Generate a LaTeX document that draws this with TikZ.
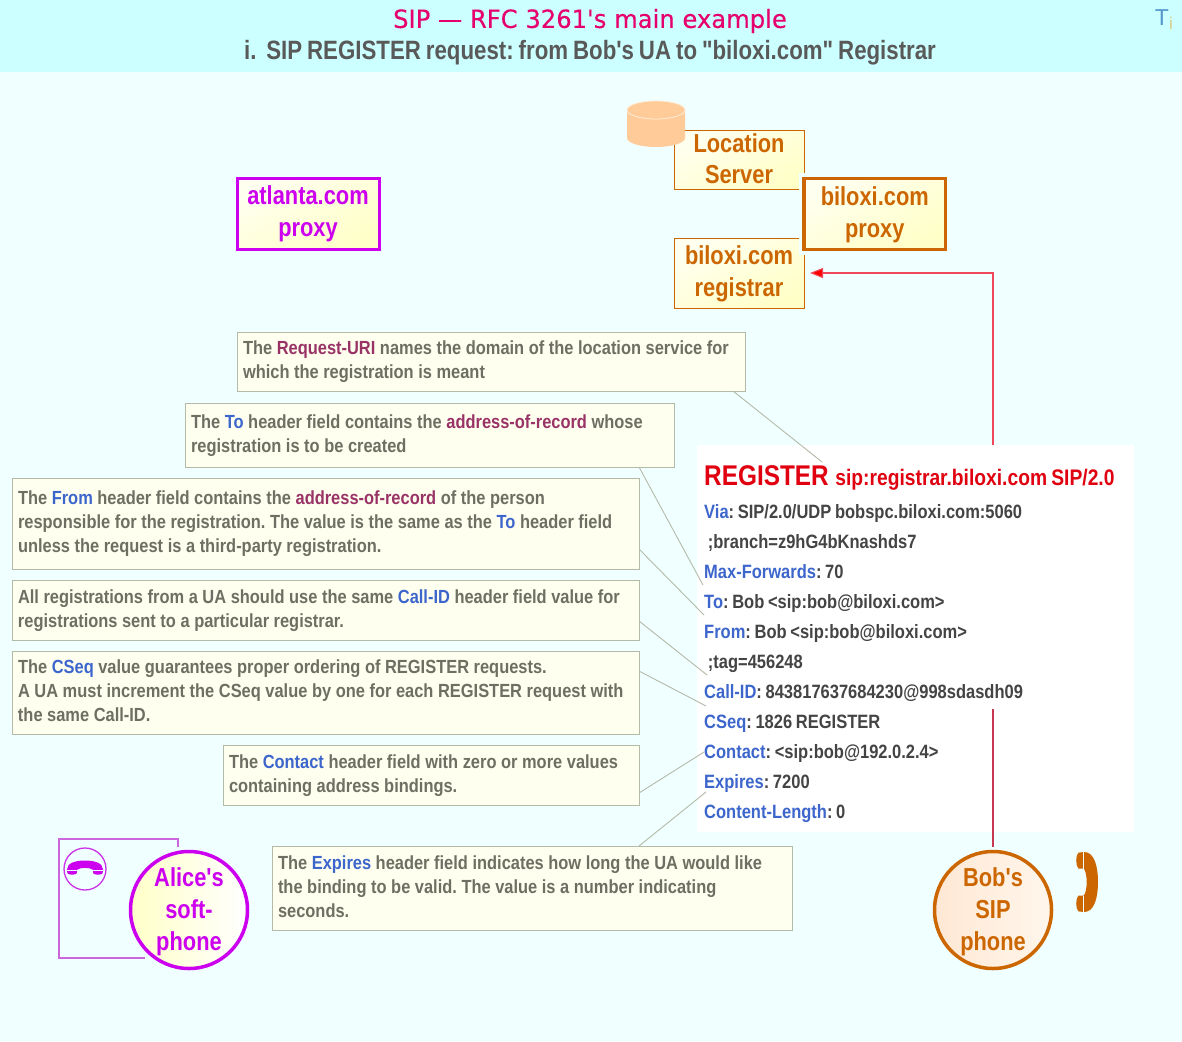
\documentclass[tikz,border=0pt]{standalone}
\usepackage{fontspec}
\usetikzlibrary{arrows.meta,calc}
\newfontfamily\narf[FakeStretch=0.84,WordSpace=0.8]{Liberation Sans}
\newfontfamily\notef[FakeStretch=0.865]{Liberation Sans}
\newfontfamily\msgf[FakeStretch=0.855,WordSpace=0.8]{Liberation Sans}
\newfontfamily\titf[FakeStretch=0.97,FakeBold=0.25]{DejaVu Sans}
\AtBeginDocument{\frenchspacing}
\definecolor{bandc}{HTML}{CCFFFF}
\definecolor{bodyc}{HTML}{F0FFFF}
\definecolor{notefill}{HTML}{FFFFF0}
\definecolor{noteline}{HTML}{B4BAA8}
\definecolor{notetext}{HTML}{6E6E62}
\definecolor{kwblue}{HTML}{3D66CC}
\definecolor{kwmar}{HTML}{993366}
\definecolor{orng}{HTML}{CC6600}
\definecolor{magn}{HTML}{CC00EE}
\definecolor{magl}{HTML}{CC66DD}
\definecolor{msgtext}{HTML}{444444}
\definecolor{msgred}{HTML}{E00010}
\definecolor{titlered}{HTML}{E6006E}
\definecolor{boxa}{HTML}{FFFFF0}
\definecolor{boxb}{HTML}{FFFFC8}
\definecolor{flowred}{HTML}{F04858}
\definecolor{flowdark}{HTML}{C83850}
\definecolor{cylc}{HTML}{FFCC99}
\definecolor{teec}{HTML}{5599CC}
\definecolor{eyec}{HTML}{DDCC88}
\definecolor{peacha}{HTML}{FFE8D4}
\definecolor{peachb}{HTML}{FFF6EC}
\newcommand{\kwb}[1]{\textcolor{kwblue}{#1}}
\newcommand{\kwm}[1]{\textcolor{kwmar}{#1}}
\newcommand{\handset}{(-1,-0.1) .. controls (-1,0.35) and (-0.5,0.5) .. (0,0.5) .. controls (0.5,0.5) and (1,0.35) .. (1,-0.1) -- (0.98,-0.35) .. controls (0.9,-0.48) and (0.55,-0.48) .. (0.45,-0.35) -- (0.45,-0.12) .. controls (0.3,0.05) and (-0.3,0.05) .. (-0.45,-0.12) -- (-0.45,-0.35) .. controls (-0.55,-0.48) and (-0.9,-0.48) .. (-0.98,-0.35) -- cycle}
\newcommand{\lowfix}{\rule[-3pt]{0pt}{0pt}}
\newcommand{\nudge}{\rule{0pt}{16pt}}
\newcommand{\topfix}{\rule{0pt}{23pt}}
\newcommand{\bignudge}{\rule{0pt}{21pt}}
\tikzset{
  note/.style={anchor=north west,draw=noteline,fill=notefill,line width=1pt,outer sep=0pt,inner xsep=6pt,inner ysep=0pt,align=flush left,text=notetext,font=\notef\bfseries\fontsize{19}{24}\selectfont},
  lead/.style={draw=noteline,line width=0.9pt},
  orbox/.style={draw=orng,line width=1pt,outer sep=0pt,left color=boxa,right color=boxb,shading angle=30,text=orng,align=center,inner sep=0pt,font=\narf\bfseries\fontsize{26}{32}\selectfont},
  bigbox/.style={orbox,line width=3.5pt},
  roundend/.style={circle,inner sep=0pt,outer sep=0pt,minimum size=117pt,line width=3.5pt,align=center,font=\narf\bfseries\fontsize{26}{32}\selectfont},
}
\begin{document}
\begin{tikzpicture}[x=1pt,y=-1pt]
\useasboundingbox (0,0) rectangle (1182,1041);
\fill[bodyc] (0,0) rectangle (1182,1041);
\fill[bandc] (0,0) rectangle (1182,72);
\node[anchor=center,text=titlered,font=\titf\fontsize{25}{30}\selectfont] (title) at (590,21) {SIP — RFC 3261's main example};
\node[anchor=center,text=black!65,font=\narf\bfseries\fontsize{26.5}{30}\selectfont] (subtitle) at (590,53) {i.\ \ SIP REGISTER request: from Bob's UA to "biloxi.com" Registrar};
\node[anchor=center,text=teec,font=\fontspec{Liberation Sans}\fontsize{23}{26}\selectfont] (tee) at (1162,18) {T};
\node[anchor=center,text=eyec,font=\fontspec{Liberation Sans}\fontsize{17}{20}\selectfont] (eye) at (1171,23) {i};

% message panel
\node[anchor=north west,fill=white,inner sep=0pt,outer sep=0pt,minimum width=437pt,minimum height=387pt] (msgbox) at (697,445) {};
\coordinate (msgtop) at (993,445);
\coordinate (msgmid) at (993,709);

% servers
\node[orbox,anchor=north west,minimum width=130pt,minimum height=59pt,font=\narf\bfseries\fontsize{26}{31}\selectfont] (loc) at (674,130) {Location\\Server\rule[-2pt]{0pt}{0pt}};
\node[orbox,anchor=north west,minimum width=130pt,minimum height=70pt] (reg) at (674,238) {\bignudge biloxi.com\\registrar};
\node[bigbox,anchor=north west,minimum width=141.5pt,minimum height=71pt,preaction={draw=bodyc,line width=11pt}] (bproxy) at (804,178.5) {\bignudge biloxi.com\\proxy};
\node[bigbox,anchor=north west,draw=magn,text=magn,line width=3pt,minimum width=142pt,minimum height=71pt] (aproxy) at (237,178) {atlanta.com\\proxy};
% database cylinder
\fill[cylc] (627,110) -- (627,138) arc[x radius=29,y radius=9,start angle=180,end angle=0] -- (685,110) arc[x radius=29,y radius=9,start angle=0,end angle=-180] -- cycle;
\draw[white!60!cylc,fill=cylc,line width=0.8pt] (656,110) ellipse[x radius=29,y radius=9];

% endpoints
\node[roundend,draw=orng,left color=peacha,right color=peachb,text=orng] (bob) at (993,910) {\topfix Bob's\\SIP\\phone};
% registration flow
\draw[draw=flowred,line width=1.1pt,-{Triangle[length=13pt,width=10pt,fill=red]}] (msgtop) |- ([xshift=6pt]reg.east);
\draw[draw=flowdark,line width=1.1pt] ([yshift=5pt]bob.north) -- (msgmid);

% notes
\node[note,minimum width=508pt,minimum height=59pt,text width=496pt] (n1) at (237,332) {The \kwm{Request-URI} names the domain of the location service for\\which the registration is meant};
\node[note,minimum width=489pt,minimum height=64pt,text width=477pt] (n2) at (185,403) {\nudge The \kwb{To} header field contains the \kwm{address-of-record} whose\\registration is to be created};
\node[note,minimum width=627pt,minimum height=91pt,text width=615pt] (n3) at (12,478) {The \kwb{From} header field contains the \kwm{address-of-record} of the person\\responsible for the registration. The value is the same as the \kwb{To} header field\\unless the request is a third-party registration.\lowfix};
\node[note,minimum width=627pt,minimum height=60pt,text width=615pt] (n4) at (12,580) {\nudge All registrations from a UA should use the same \kwb{Call-ID} header field value for\\registrations sent to a particular registrar.};
\node[note,minimum width=627pt,minimum height=83pt,text width=615pt] (n5) at (12,651) {The \kwb{CSeq} value guarantees proper ordering of REGISTER requests.\\A UA must increment the CSeq value by one for each REGISTER request with\\the same Call-ID.\lowfix};
\node[note,minimum width=416pt,minimum height=60pt,text width=404pt] (n6) at (223,745) {\nudge The \kwb{Contact} header field with zero or more values\\containing address bindings.};
\node[note,minimum width=520pt,minimum height=84pt,text width=508pt] (n7) at (272,846) {The \kwb{Expires} header field indicates how long the UA would like\\the binding to be valid. The value is a number indicating\\seconds.\lowfix};

% message text
\node[anchor=north west,inner sep=0pt,align=left,text=msgtext,font=\msgf\bfseries\fontsize{19.3}{30}\selectfont] (msgtxt) at (704,465) {\textcolor{msgred}{{\fontsize{28.5}{30}\selectfont REGISTER}\hspace{3pt} {\fontsize{22.5}{30}\selectfont sip:registrar.biloxi.com SIP/2.0}}\\[3pt]
\kwb{Via}: SIP/2.0/UDP bobspc.biloxi.com:5060\\
\ ;branch=z9hG4bKnashds7\\
\kwb{Max-Forwards}: 70\\
\kwb{To}: Bob <sip:bob@biloxi.com>\\
\kwb{From}: Bob <sip:bob@biloxi.com>\\
\ ;tag=456248\\
\kwb{Call-ID}: 843817637684230@998sdasdh09\\
\kwb{CSeq}: 1826 REGISTER\\
\kwb{Contact}: <sip:bob@192.0.2.4>\\
\kwb{Expires}: 7200\\
\kwb{Content-Length}: 0};

% leader ends
\coordinate (e1) at (822,462);
\coordinate (e2) at (703,585);
\coordinate (e3) at (704,615);
\coordinate (e4) at (707,675);
\coordinate (e5) at (706,706);
\coordinate (e6) at (704,752);
\coordinate (e7) at (706,792);
\draw[lead] ([xshift=-12pt]n1.south east) -- (e1);
\draw[lead] ([xshift=-35pt]n2.south east) -- (e2);
\draw[lead] ([yshift=20pt]n3.south east) -- (e3);
\draw[lead] ([yshift=19pt]n4.south east) -- (e4);
\draw[lead] ([yshift=-20pt]n5.north east) -- (e5);
\draw[lead] ([yshift=12pt]n6.south east) -- (e6);
\draw[lead] ([xshift=-153pt]n7.north east) -- (e7);

\draw[draw=magl,line width=1.3pt] (178,847) -- (178,839) -- (59,839) -- (59,958) -- (145,958);
\node[draw=magl!50!magn,circle,line width=1.3pt,outer sep=0pt,minimum size=42pt,inner sep=0pt] (aicon) at (85,869) {};
\begin{scope}[shift={(85,868)},xscale=18,yscale=-15]
\fill[magn] \handset;
\draw[bodyc,line width=1pt] (0.45,-0.15) -- (1,-0.15) (-0.45,-0.15) -- (-1,-0.15);
\end{scope}
\node[roundend,draw=magn,left color=boxb,right color=white,text=magn] (alice) at (189,910) {\topfix Alice's\\soft-\\phone};
\begin{scope}[shift={(1086.5,882)},cm={0,30,-23,0,(0,0)}]
\fill[orng] \handset;
\draw[bodyc,line width=1pt] (0.45,-0.15) -- (1,-0.15) (-0.45,-0.15) -- (-1,-0.15);
\end{scope}
\end{tikzpicture}
\end{document}
